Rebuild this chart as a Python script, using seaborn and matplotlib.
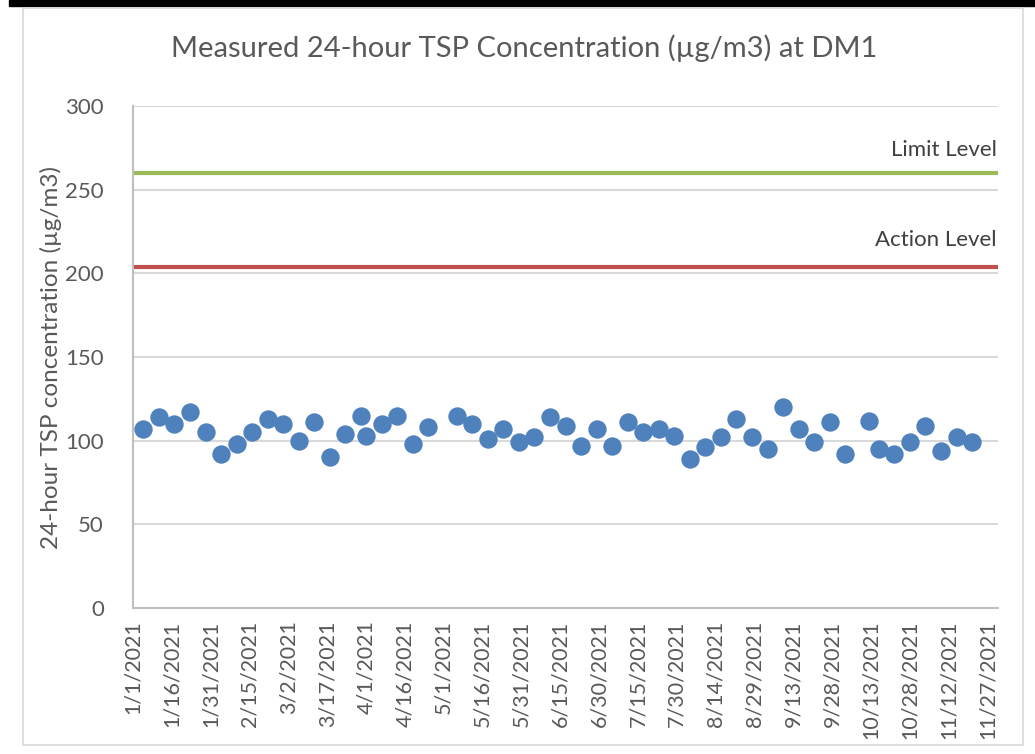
import matplotlib
matplotlib.use("Agg")
import matplotlib.pyplot as plt
import matplotlib.dates as mdates
from matplotlib.patches import Rectangle
import pandas as pd
import seaborn as sns

# sampling dates and measured 24-hour TSP values (ug/m3) at DM1
dates = ['2021-01-05', '2021-01-11', '2021-01-17', '2021-01-23', '2021-01-29',
         '2021-02-04', '2021-02-10', '2021-02-16', '2021-02-22', '2021-02-28',
         '2021-03-06', '2021-03-12', '2021-03-18', '2021-03-24', '2021-03-30',
         '2021-04-01', '2021-04-07', '2021-04-13', '2021-04-19', '2021-04-25',
         '2021-05-06', '2021-05-12', '2021-05-18', '2021-05-24', '2021-05-30',
         '2021-06-05', '2021-06-11', '2021-06-17', '2021-06-23', '2021-06-29',
         '2021-07-05', '2021-07-11', '2021-07-17', '2021-07-23', '2021-07-29',
         '2021-08-04', '2021-08-10', '2021-08-16', '2021-08-22', '2021-08-28',
         '2021-09-03', '2021-09-09', '2021-09-15', '2021-09-21', '2021-09-27',
         '2021-10-03', '2021-10-12', '2021-10-16', '2021-10-22', '2021-10-28',
         '2021-11-03', '2021-11-09', '2021-11-15', '2021-11-21']
tsp = [107, 114, 110, 117, 105, 92, 98, 105, 113, 110,
       100, 111, 90, 104, 115, 103, 110, 115, 98, 108,
       115, 110, 101, 107, 99, 102, 114, 109, 97, 107,
       97, 111, 105, 107, 103, 89, 96, 102, 113, 102,
       95, 120, 107, 99, 111, 92, 112, 95, 92, 99,
       109, 94, 102, 99]

limit_level = 260
action_level = 204

tick_labels = ['1/1/2021', '1/16/2021', '1/31/2021', '2/15/2021', '3/2/2021',
               '3/17/2021', '4/1/2021', '4/16/2021', '5/1/2021', '5/16/2021',
               '5/31/2021', '6/15/2021', '6/30/2021', '7/15/2021', '7/30/2021',
               '8/14/2021', '8/29/2021', '9/13/2021', '9/28/2021', '10/13/2021',
               '10/28/2021', '11/12/2021', '11/27/2021']

df = pd.DataFrame({'date': pd.to_datetime(dates), 'tsp': tsp})

sns.set_style("white")
plt.rcParams['font.family'] = ['Lato', 'DejaVu Sans']
txt = '#595959'
grid = '#d9d9d9'

fig = plt.figure(figsize=(10.35, 7.54), dpi=100)
W, H = 1035, 754

# top black bar and chart frame
fig.patches.append(Rectangle((9 / W, 1 - 6 / H), 1 - 9 / W, 6 / H,
                             transform=fig.transFigure, color='black', zorder=0))
fig.patches.append(Rectangle((23 / W, 1 - 745 / H), 1000 / W, 737 / H,
                             transform=fig.transFigure, fill=False,
                             edgecolor=grid, linewidth=1.2, zorder=0))

ax = fig.add_axes([133 / W, 1 - 608 / H, (998 - 133) / W, (608 - 106) / H])

sns.scatterplot(data=df, x='date', y='tsp', ax=ax, s=175, color='#4f81bd',
                edgecolor='#4f81bd', linewidth=0, zorder=3, legend=False)

ax.axhline(limit_level, color='#9bbb59', linewidth=3, zorder=2)
ax.axhline(action_level, color='#c0504d', linewidth=3, zorder=2)
ax.text(0.9985, limit_level + 14, 'Limit Level', transform=ax.get_yaxis_transform(),
        ha='right', va='center', fontsize=16, color='#404040')
ax.text(0.9985, action_level + 16, 'Action Level', transform=ax.get_yaxis_transform(),
        ha='right', va='center', fontsize=16, color='#404040')

ax.set_xlim(pd.Timestamp('2021-01-01'), pd.Timestamp('2021-12-01'))
ax.set_ylim(0, 300)
ax.set_yticks(range(0, 301, 50))
ax.yaxis.grid(True, color=grid, linewidth=1.5, zorder=0)
ax.set_axisbelow(True)

ticks = pd.to_datetime(tick_labels, format='%m/%d/%Y')
ax.set_xticks(mdates.date2num(ticks))
ax.set_xticklabels(tick_labels, rotation=90, fontsize=15.5, color=txt)
ax.tick_params(axis='y', labelsize=16, labelcolor=txt, length=0, pad=21)
ax.tick_params(axis='x', length=0, pad=9)

for side in ['top', 'right']:
    ax.spines[side].set_visible(False)
for side in ['left', 'bottom']:
    ax.spines[side].set_color('#bfbfbf')
    ax.spines[side].set_linewidth(1.5)

ax.set_xlabel('')
ax.set_ylabel('24-hour TSP concentration (µg/m3)', fontsize=17.5, color=txt, labelpad=2)
fig.text(524 / W, 1 - 48 / H, 'Measured 24-hour TSP Concentration (µg/m3) at DM1',
         ha='center', va='center', fontsize=21, color=txt)

fig.savefig('out.png', dpi=100)
